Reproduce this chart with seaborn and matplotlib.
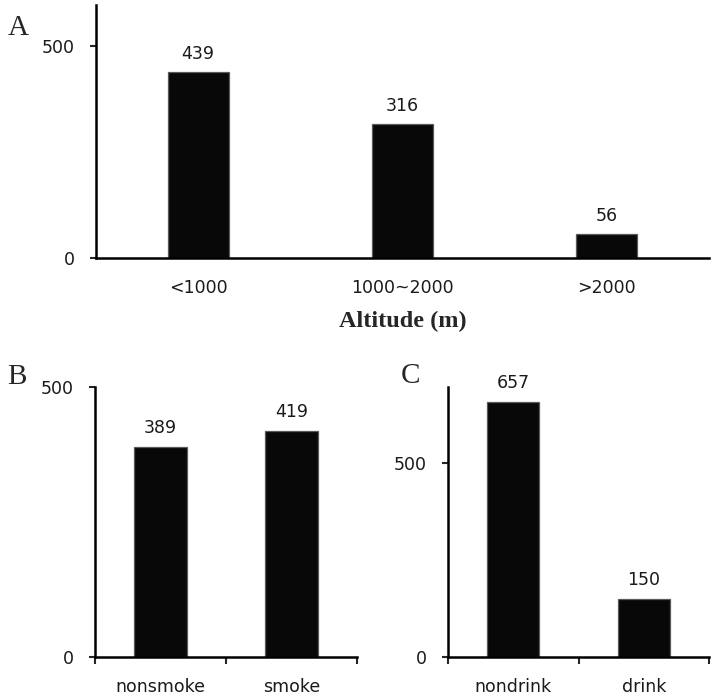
import numpy as np
import pandas as pd
import matplotlib
matplotlib.use("Agg")
import matplotlib.pyplot as plt
import seaborn as sns

# data
altitude_groups = ["<1000", "1000~2000", ">2000"]
altitude_counts = [439, 316, 56]

smoke_groups = ["nonsmoke", "smoke"]
smoke_counts = [389, 419]

drink_groups = ["nondrink", "drink"]
drink_counts = [657, 150]

sns.set_style("white")
plt.rcParams["font.family"] = ["DejaVu Sans"]

W, H = 716, 697
fig = plt.figure(figsize=(W / 100, H / 100), dpi=100)


def px_axes(left, top, right, bottom):
    return fig.add_axes([left / W, 1 - bottom / H, (right - left) / W, (bottom - top) / H])


def draw_panel(ax, cats, vals, ymax, yticks, width, boundary_ticks):
    df = pd.DataFrame({"group": cats, "n": vals})
    sns.barplot(data=df, x="group", y="n", color="#080808", width=width,
                edgecolor="#5a5a5a", linewidth=0.9, ax=ax, saturation=1)
    ax.set_xlim(-0.5, len(cats) - 0.5)
    ax.set_ylim(0, ymax)
    ax.set_yticks(yticks)
    ax.set_xlabel("")
    ax.set_ylabel("")
    for s in ["top", "right"]:
        ax.spines[s].set_visible(False)
    for s in ["left", "bottom"]:
        ax.spines[s].set_linewidth(1.8)
        ax.spines[s].set_color("black")
    ax.tick_params(axis="y", direction="out", length=4.5, width=1.5,
                   labelsize=12.5, pad=11, left=True, labelcolor="#1a1a1a")
    if boundary_ticks:
        ax.set_xticks(np.arange(len(cats) + 1) - 0.5, minor=True)
        ax.tick_params(axis="x", which="minor", direction="out", length=5, width=1.5, bottom=True)
    ax.tick_params(axis="x", which="major", length=0, labelsize=12.5, pad=15, labelcolor="#1a1a1a")
    ax.set_xticks(range(len(cats)))
    ax.set_xticklabels(cats)
    for i, v in enumerate(vals):
        ax.annotate(str(v), (i, v), xytext=(0, 7), textcoords="offset points",
                    ha="center", va="bottom", fontsize=12.5, color="#1a1a1a")


axA = px_axes(96, 5, 709, 258)
draw_panel(axA, altitude_groups, altitude_counts, 598, [0, 500], 0.3, False)
axA.set_xlabel("Altitude (m)", family="Liberation Serif", fontweight="bold",
               fontsize=17.5, labelpad=10)

axB = px_axes(95, 387, 357, 657)
draw_panel(axB, smoke_groups, smoke_counts, 500, [0, 500], 0.4, True)

axC = px_axes(448, 387, 709, 657)
draw_panel(axC, drink_groups, drink_counts, 696, [0, 500], 0.4, True)

fig.text(18 / W, 1 - 28 / H, "A", family="Liberation Serif", fontsize=21, va="center", ha="center")
fig.text(17 / W, 1 - 377 / H, "B", family="Liberation Serif", fontsize=21, va="center", ha="center")
fig.text(410 / W, 1 - 376 / H, "C", family="Liberation Serif", fontsize=21, va="center", ha="center")

fig.savefig("out.png", dpi=100)
